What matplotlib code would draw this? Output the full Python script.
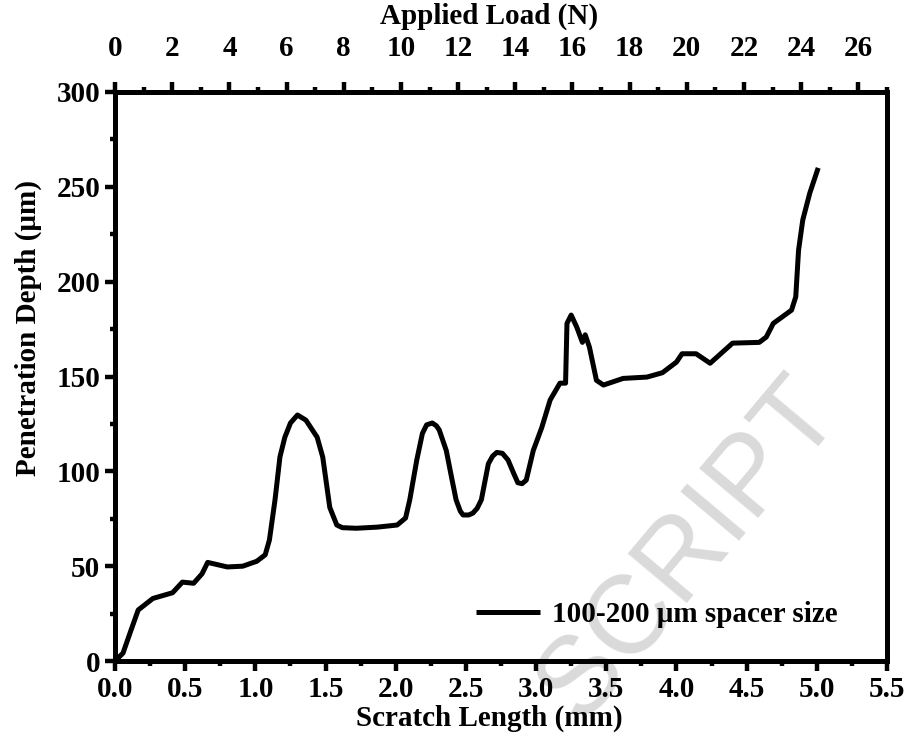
import matplotlib
matplotlib.use('Agg')
import matplotlib.pyplot as plt
from matplotlib.ticker import MultipleLocator

plt.rcParams['font.family'] = ['Liberation Serif', 'DejaVu Serif']
plt.rcParams['font.weight'] = 'bold'

# Scratch test curve
scratch_mm = [0.0, 0.057, 0.107, 0.165, 0.27, 0.41, 0.48, 0.56, 0.62, 0.66,
              0.80, 0.91, 1.01, 1.07, 1.10, 1.14, 1.175, 1.21, 1.25, 1.30,
              1.36, 1.44, 1.48, 1.53, 1.58, 1.62, 1.72, 1.87, 2.01, 2.07,
              2.10, 2.15, 2.19, 2.22, 2.26, 2.29, 2.31, 2.36, 2.40, 2.43,
              2.46, 2.48, 2.52, 2.55, 2.58, 2.61, 2.66, 2.69, 2.72, 2.76,
              2.80, 2.84, 2.87, 2.90, 2.93, 2.98, 3.04, 3.10, 3.17, 3.21,
              3.22, 3.25, 3.29, 3.33, 3.35, 3.38, 3.43, 3.48, 3.62, 3.79,
              3.90, 4.00, 4.04, 4.14, 4.24, 4.40, 4.59, 4.64, 4.69, 4.82,
              4.85, 4.87, 4.90, 4.95, 5.01]
depth_um = [0, 4.2, 14.8, 26.9, 33, 36, 41.6, 41, 46, 52,
            49.6, 50, 52.6, 56, 63.8, 85, 107.6, 118, 125.5, 129.7,
            127, 118, 107.5, 81, 71.7, 70.3, 70, 70.6, 71.7, 75.4,
            85, 106, 120, 124.5, 125.5, 124, 121.8, 111, 96, 85,
            79, 77, 77, 78, 80.5, 85, 104, 108, 110, 109.5,
            106, 99, 94, 93.5, 95.4, 111, 123, 137.6, 146.5, 146.5,
            178, 182.4, 176, 168, 172, 165.5, 148, 145.5, 149, 149.7,
            152, 157.6, 162, 162, 157, 167.6, 168, 170.8, 178, 185,
            192, 216.6, 232.5, 246.7, 260]
series_label = '100-200 \u03bcm spacer size'

load_ticks = list(range(0, 27, 2))
fs = 21

fig = plt.figure(figsize=(9.1, 7.51), dpi=100)
ax = fig.add_axes([0.1264, 0.1198, 0.8483, 0.7577])
ax.set_facecolor('none')

# faint watermark behind the plot
fig.text(0.758, 0.27, 'SCRIPT', fontsize=80, color='#dadada', rotation=50,
         ha='center', va='center', family='Liberation Sans', fontweight='normal',
         zorder=-1)

ax.plot(scratch_mm, depth_um, color='black', lw=3.6, solid_joinstyle='round',
        solid_capstyle='butt', label=series_label)

ax.set_xlim(0, 5.5)
ax.set_ylim(0, 300)
ax.xaxis.set_major_locator(MultipleLocator(0.5))
ax.xaxis.set_minor_locator(MultipleLocator(0.25))
ax.yaxis.set_major_locator(MultipleLocator(50))
ax.yaxis.set_minor_locator(MultipleLocator(25))
ax.xaxis.set_major_formatter(plt.FormatStrFormatter('%.1f'))

for s in ax.spines.values():
    s.set_linewidth(3.5)
ax.tick_params(which='major', direction='out', length=7.5, width=3.2, labelsize=fs, pad=3)
ax.tick_params(which='minor', direction='out', length=3.5, width=3.2)
ax.tick_params(top=False, right=False, which='both')

ax.set_xlabel('Scratch Length (mm)', fontsize=fs, fontweight='bold')
ax.xaxis.set_label_coords(0.485, -0.076)
ax.set_ylabel('Penetration Depth (\u03bcm)', fontsize=fs, fontweight='bold')
ax.yaxis.set_label_coords(-0.094, 0.585)

top = ax.twiny()
top.set_xlim(0, 27)
top.set_xticks(load_ticks)
top.xaxis.set_minor_locator(MultipleLocator(1))
top.tick_params(which='major', direction='out', length=7.5, width=3.2, labelsize=fs, pad=14)
top.tick_params(which='minor', direction='out', length=3.5, width=3.2)
for s in top.spines.values():
    s.set_linewidth(3.5)
top.set_xlabel('Applied Load (N)', fontsize=fs, fontweight='bold')
top.xaxis.set_label_coords(0.485, 1.12)

ax.legend(loc='lower right', bbox_to_anchor=(0.97, 0.012), frameon=False,
          prop={'size': fs, 'weight': 'bold'}, handlelength=2.2, handletextpad=0.4)

fig.savefig('out.png', dpi=100)
